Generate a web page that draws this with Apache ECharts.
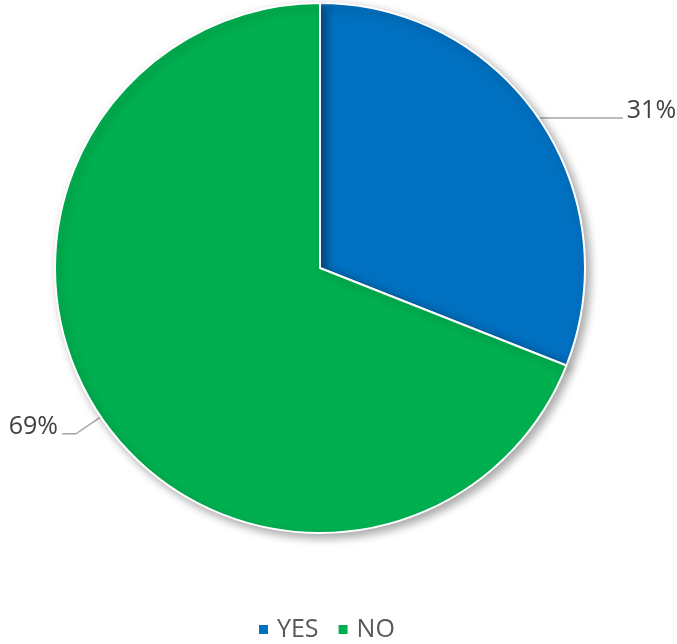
<!DOCTYPE html>
<html>
<head>
<meta charset="utf-8">
<script src="https://cdn.jsdelivr.net/npm/echarts@6/dist/echarts.min.js"></script>
<style>html,body{margin:0;padding:0;background:#fff;}#c{width:677px;height:644px;}</style>
</head>
<body>
<div id="c"></div>
<script>
const categories = ['YES', 'NO'];
const values = [31, 69];
const colors = ['#0070C0', '#00B050'];

const chart = echarts.init(document.getElementById('c'));
const lineCfg = [
  { length: 2, length2: 82 },
  { length: 30, length2: 14 }
];
chart.setOption({
  animation: false,
  legend: {
    bottom: -3,
    left: 252,
    icon: 'rect',
    itemWidth: 11,
    itemHeight: 11,
    itemGap: 18,
    textStyle: { fontSize: 25, color: '#595959', fontFamily: 'Open Sans', padding: [0, 0, 0, 3] },
    data: categories
  },
  series: [{
    type: 'pie',
    center: [320, 268],
    radius: 265,
    startAngle: 90,
    clockwise: true,
    itemStyle: {
      borderColor: '#fff',
      borderWidth: 2,
      shadowBlur: 10,
      shadowOffsetX: 4,
      shadowOffsetY: 4,
      shadowColor: 'rgba(0,0,0,0.35)'
    },
    label: {
      formatter: '{d}%\n{s|}',
      fontSize: 25,
      lineHeight: 28,
      color: '#404040',
      fontFamily: 'Open Sans',
      overflow: 'none',
      distanceToLabelLine: 4,
      rich: { s: { height: 14, lineHeight: 14, fontSize: 10 } }
    },
    labelLine: {
      lineStyle: { color: '#a6a6a6', width: 1.5 }
    },
    data: categories.map((n, i) => ({
      name: n,
      value: values[i],
      itemStyle: { color: colors[i] },
      labelLine: lineCfg[i]
    }))
  }]
});
</script>
</body>
</html>
